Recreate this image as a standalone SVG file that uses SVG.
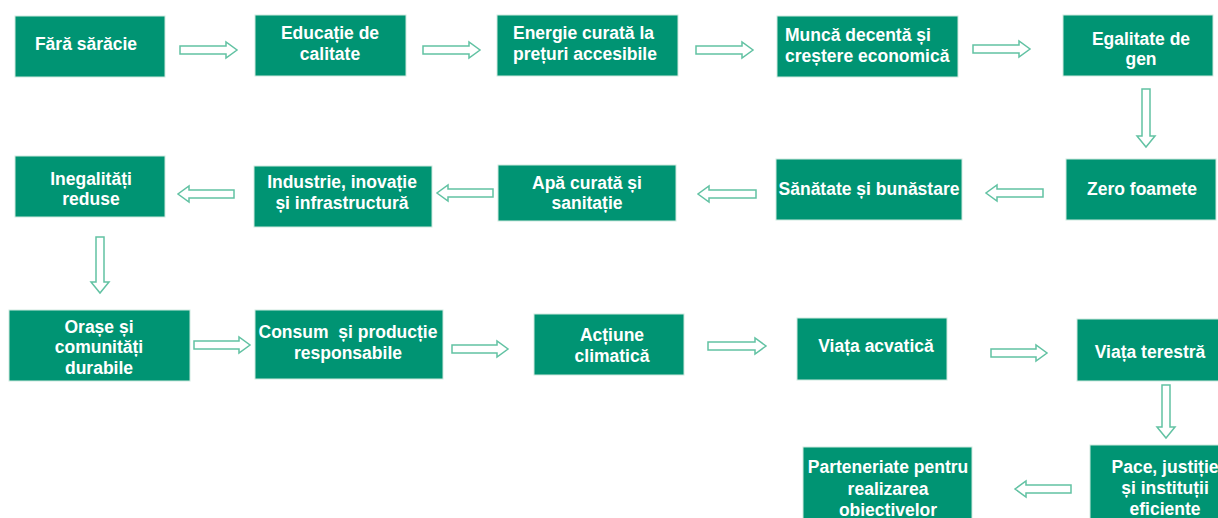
<svg xmlns="http://www.w3.org/2000/svg" width="1218" height="518" viewBox="0 0 1218 518">
<style>
.box{fill:#009473;stroke:#cfe9df;stroke-width:1}
.t{font-family:"Liberation Sans",Arial,sans-serif;font-weight:bold;font-size:17.5px;fill:#ffffff;text-anchor:middle}
.l{text-anchor:start}
.arr{fill:#ffffff;stroke:#62c2a3;stroke-width:1.5;stroke-linejoin:miter}
</style>
<rect width="1218" height="518" fill="#ffffff"/>
<g id="connectors">
<polygon class="arr" points="180,46 226,46 226,42 237,50 226,58 226,54 180,54"/>
<polygon class="arr" points="423,46 469,46 469,42 480,50 469,58 469,54 423,54"/>
<polygon class="arr" points="696,46 742,46 742,42 753,50 742,58 742,54 696,54"/>
<polygon class="arr" points="973,45 1019,45 1019,41 1030,49 1019,57 1019,53 973,53"/>
<polygon class="arr" points="1142,89 1150,89 1150,136 1155,136 1146,147 1137,136 1142,136"/>
<polygon class="arr" points="1043,189 997,189 997,185 986,193 997,201 997,197 1043,197"/>
<polygon class="arr" points="756,190 709,190 709,186 698,194 709,202 709,198 756,198"/>
<polygon class="arr" points="493,189 448,189 448,185 437,193 448,201 448,197 493,197"/>
<polygon class="arr" points="234,190 189,190 189,186 178,194 189,202 189,198 234,198"/>
<polygon class="arr" points="96,237 104,237 104,282 109,282 100,293 91,282 96,282"/>
<polygon class="arr" points="194,341 239,341 239,337 250,345 239,353 239,349 194,349"/>
<polygon class="arr" points="452,345 497,345 497,341 508,349 497,357 497,353 452,353"/>
<polygon class="arr" points="708,342 755,342 755,338 766,346 755,354 755,350 708,350"/>
<polygon class="arr" points="991,349 1036,349 1036,345 1047,353 1036,361 1036,357 991,357"/>
<polygon class="arr" points="1162,385 1170,385 1170,427 1175,427 1166,438 1157,427 1162,427"/>
<polygon class="arr" points="1071,485 1026,485 1026,481 1015,489 1026,497 1026,493 1071,493"/>
</g>
<g id="n1"><rect class="box" x="15" y="16" width="150" height="61"/><text class="t" x="86" y="50">Fără sărăcie</text></g>
<g id="n2"><rect class="box" x="255" y="15" width="151" height="61"/><text class="t" x="330" y="39">Educație de</text><text class="t" x="330" y="60">calitate</text></g>
<g id="n3"><rect class="box" x="497" y="15" width="181" height="61"/><text class="t l" x="513" y="39">Energie curată la</text><text class="t l" x="513" y="60">prețuri accesibile</text></g>
<g id="n4"><rect class="box" x="777" y="16" width="181" height="61"/><text class="t l" x="785" y="41">Muncă decentă și</text><text class="t l" x="785" y="62">creștere economică</text></g>
<g id="n5"><rect class="box" x="1063" y="15" width="150" height="61"/><text class="t" x="1141" y="45">Egalitate de</text><text class="t" x="1141" y="65">gen</text></g>
<g id="n6"><rect class="box" x="1066" y="159" width="150" height="61"/><text class="t" x="1142" y="195">Zero foamete</text></g>
<g id="n7"><rect class="box" x="776" y="159" width="186" height="61"/><text class="t" x="869" y="195">Sănătate și bunăstare</text></g>
<g id="n8"><rect class="box" x="498" y="165" width="178" height="56"/><text class="t" x="587" y="189">Apă curată și</text><text class="t" x="587" y="209">sanitație</text></g>
<g id="n9"><rect class="box" x="254" y="166" width="178" height="61"/><text class="t" x="342" y="188">Industrie, inovație</text><text class="t" x="342" y="209">și infrastructură</text></g>
<g id="n10"><rect class="box" x="15" y="156" width="150" height="61"/><text class="t" x="91" y="185">Inegalități</text><text class="t" x="91" y="205">reduse</text></g>
<g id="n11"><rect class="box" x="9" y="310" width="181" height="71"/><text class="t" x="99" y="333">Orașe și</text><text class="t" x="99" y="353">comunități</text><text class="t" x="99" y="374">durabile</text></g>
<g id="n12"><rect class="box" x="255" y="310" width="188" height="69"/><text class="t" x="348" y="338" style="white-space:pre">Consum  și producție</text><text class="t" x="348" y="359">responsabile</text></g>
<g id="n13"><rect class="box" x="534" y="314" width="150" height="61"/><text class="t" x="612" y="341">Acțiune</text><text class="t" x="612" y="362">climatică</text></g>
<g id="n14"><rect class="box" x="797" y="318" width="150" height="62"/><text class="t" x="876" y="352">Viața acvatică</text></g>
<g id="n15"><rect class="box" x="1077" y="319" width="150" height="62"/><text class="t" x="1150" y="358">Viața terestră</text></g>
<g id="n16"><rect class="box" x="1090" y="445" width="140" height="80"/><text class="t" x="1165" y="473">Pace, justiție</text><text class="t" x="1165" y="494">și instituții</text><text class="t" x="1165" y="515">eficiente</text></g>
<g id="n17"><rect class="box" x="803" y="447" width="169" height="80"/><text class="t" x="888" y="473">Parteneriate pentru</text><text class="t" x="888" y="495">realizarea</text><text class="t" x="888" y="516">obiectivelor</text></g>
</svg>
